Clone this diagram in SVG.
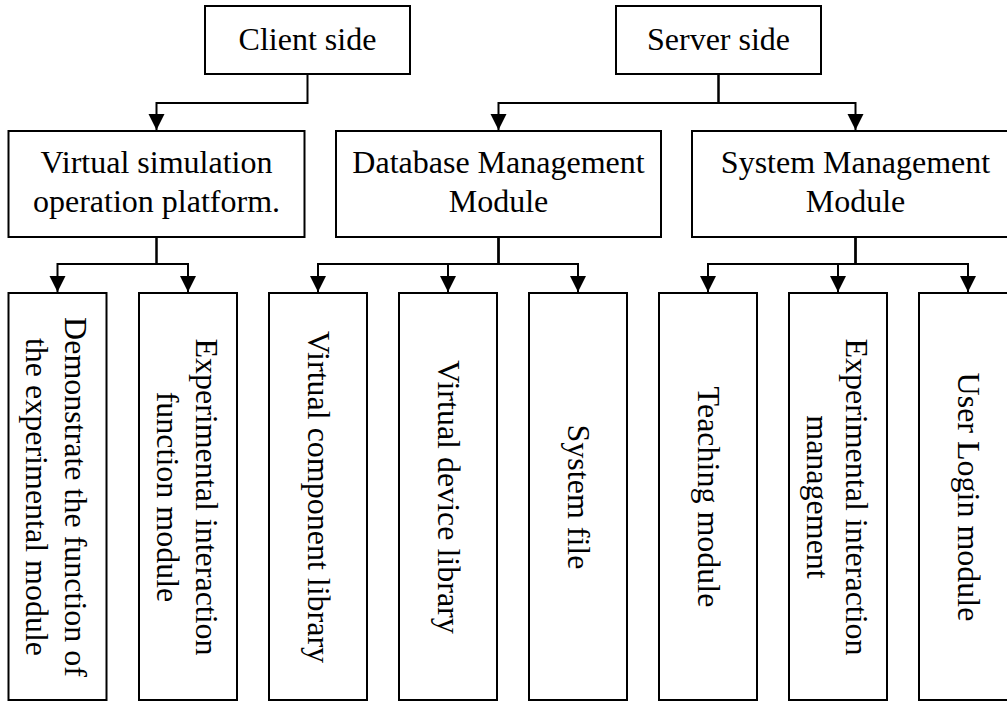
<svg xmlns="http://www.w3.org/2000/svg" width="1007" height="702" viewBox="0 0 1007 702">
<style>
.box{fill:#fff;stroke:#000;stroke-width:2}
.t{font-family:"Liberation Serif","Times New Roman",serif;font-size:32px;fill:#000;text-anchor:middle}
.c{fill:none;stroke:#000;stroke-width:2;marker-end:url(#ah)}
</style>
<defs>
<marker id="ah" markerUnits="userSpaceOnUse" markerWidth="18" markerHeight="18" viewBox="0 0 18 18" refX="16" refY="9" orient="auto">
<path d="M0,1 L16,9 L0,17 Z" fill="#000"/>
</marker>
</defs>
<rect width="1007" height="702" fill="#fff"/>
<g id="connectors">
<path class="c" d="M307.5,74 V103 H156.5 V130"/>
<path class="c" d="M718.5,74 V103 H498.5 V130"/>
<path class="c" d="M718.5,74 V103 H855.5 V130"/>
<path class="c" d="M156.5,237 V264 H57.5 V292"/>
<path class="c" d="M156.5,237 V264 H188 V292"/>
<path class="c" d="M498.5,237 V264 H318 V292"/>
<path class="c" d="M498.5,237 V264 H448 V292"/>
<path class="c" d="M498.5,237 V264 H578 V292"/>
<path class="c" d="M855.5,237 V264 H708 V292"/>
<path class="c" d="M855.5,237 V264 H838 V292"/>
<path class="c" d="M855.5,237 V264 H968 V292"/>
</g>
<g id="client">
<rect class="box" x="205" y="6" width="205" height="68"/>
<text class="t" x="307.5" y="50">Client side</text>
</g>
<g id="server">
<rect class="box" x="616" y="6" width="205" height="68"/>
<text class="t" x="718.5" y="50">Server side</text>
</g>
<g id="vsop">
<rect class="box" x="8.5" y="131" width="296" height="106"/>
<text class="t" x="156.5" y="173">Virtual simulation</text>
<text class="t" x="156.5" y="212">operation platform.</text>
</g>
<g id="dbm">
<rect class="box" x="336" y="131" width="325" height="106"/>
<text class="t" x="498.5" y="173">Database Management</text>
<text class="t" x="498.5" y="212">Module</text>
</g>
<g id="sysm">
<rect class="box" x="692" y="131" width="327" height="106"/>
<text class="t" x="855.5" y="173">System Management</text>
<text class="t" x="855.5" y="212">Module</text>
</g>
<g id="demo">
<rect class="box" x="8.5" y="293" width="98" height="407"/>
<g transform="translate(57.5,497) rotate(90)">
<text class="t" x="0" y="-7.5">Demonstrate the function of</text>
<text class="t" x="0" y="31.5">the experimental module</text>
</g>
</g>
<g id="expint">
<rect class="box" x="139" y="293" width="98" height="407"/>
<g transform="translate(188,497) rotate(90)">
<text class="t" x="0" y="-7.5">Experimental interaction</text>
<text class="t" x="0" y="31.5">function module</text>
</g>
</g>
<g id="vcl">
<rect class="box" x="269" y="293" width="98" height="407"/>
<text class="t" transform="translate(318,497) rotate(90)" x="0" y="10">Virtual component library</text>
</g>
<g id="vdl">
<rect class="box" x="399" y="293" width="98" height="407"/>
<text class="t" transform="translate(448,497) rotate(90)" x="0" y="10">Virtual device library</text>
</g>
<g id="sysfile">
<rect class="box" x="529" y="293" width="98" height="407"/>
<text class="t" transform="translate(578,497) rotate(90)" x="0" y="10">System file</text>
</g>
<g id="teach">
<rect class="box" x="659" y="293" width="98" height="407"/>
<text class="t" transform="translate(708,497) rotate(90)" x="0" y="10">Teaching module</text>
</g>
<g id="expmgmt">
<rect class="box" x="789" y="293" width="98" height="407"/>
<g transform="translate(838,497) rotate(90)">
<text class="t" x="0" y="-7.5">Experimental interaction</text>
<text class="t" x="0" y="31.5">management</text>
</g>
</g>
<g id="login">
<rect class="box" x="919" y="293" width="98" height="407"/>
<text class="t" transform="translate(968,497) rotate(90)" x="0" y="10">User Login module</text>
</g>
</svg>
